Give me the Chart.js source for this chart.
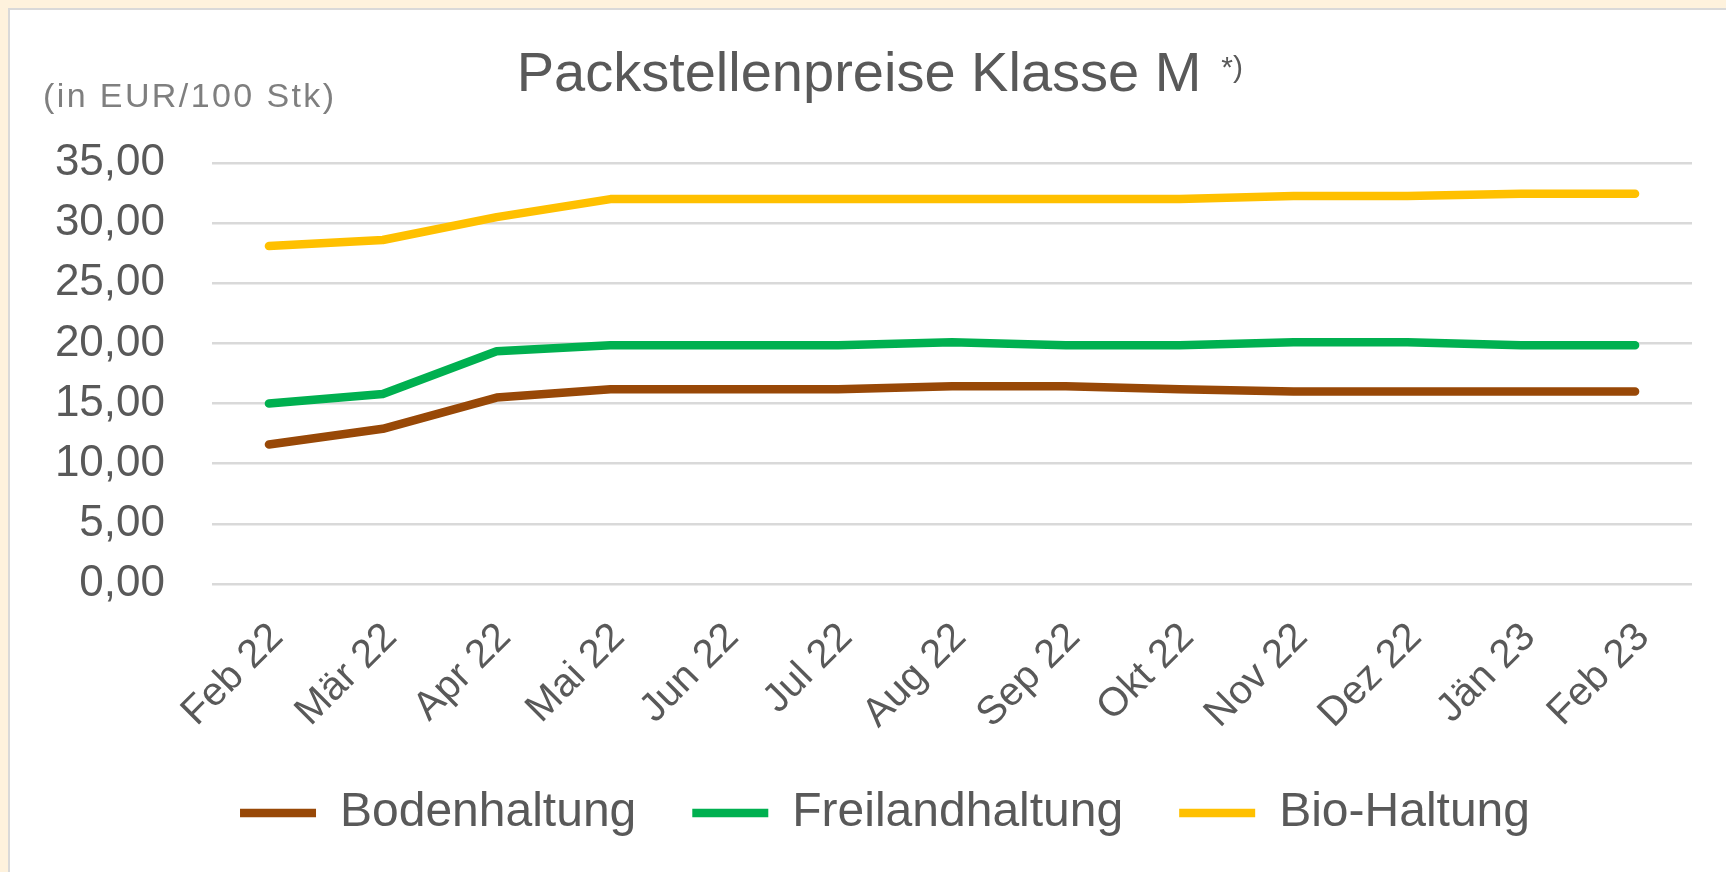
<!DOCTYPE html>
<html lang="de">
<head>
<meta charset="utf-8">
<title>Packstellenpreise Klasse M</title>
<script src="https://cdn.jsdelivr.net/npm/chart.js@4.4.1/dist/chart.umd.min.js"></script>
<style>
  html, body { margin: 0; padding: 0; width: 1726px; height: 872px; overflow: hidden; background: #fef2dd; }
  #panel { position: absolute; left: 8px; top: 8px; right: 0; bottom: 0; background: #fff;
           border-left: 2px solid #d9d9d9; border-top: 2px solid #d9d9d9; }
  #chart { display: block; }
</style>
</head>
<body>
<div id="panel"><canvas id="chart"></canvas></div>
<script>
const months = ['Feb 22', 'Mär 22', 'Apr 22', 'Mai 22', 'Jun 22', 'Jul 22', 'Aug 22',
                'Sep 22', 'Okt 22', 'Nov 22', 'Dez 22', 'Jän 23', 'Feb 23'];
const bodenhaltung = [11.6, 12.9, 15.5, 16.2, 16.2, 16.2, 16.45, 16.45, 16.2, 16.0, 16.0, 16.0, 16.0];
const freilandhaltung = [15.0, 15.8, 19.35, 19.85, 19.85, 19.85, 20.1, 19.85, 19.85, 20.1, 20.1, 19.85, 19.85];
const bioHaltung = [28.1, 28.6, 30.5, 32.0, 32.0, 32.0, 32.0, 32.0, 32.0, 32.25, 32.25, 32.45, 32.45];

const titleText = 'Packstellenpreise Klasse M';
const unitText = '(in EUR/100 Stk)';
const textColor = '#595959';
const gridColor = '#d9d9d9';
const fontFamily = '"Liberation Sans", Arial, sans-serif';

// title, footnote mark and unit label
const headerText = {
  id: 'headerText',
  afterDraw(chart) {
    const ctx = chart.ctx;
    ctx.save();
    ctx.fillStyle = textColor;
    ctx.textBaseline = 'middle';
    ctx.textAlign = 'center';
    ctx.font = '56px ' + fontFamily;
    const cx = chart.width / 2 - 9;
    ctx.fillText(titleText, cx, 66);
    const w = ctx.measureText(titleText).width;
    ctx.textAlign = 'left';
    ctx.textBaseline = 'top';
    ctx.font = '30px ' + fontFamily;
    ctx.fillText('*)', cx + w / 2 + 20, 44);
    ctx.fillStyle = '#7f7f7f';
    ctx.textBaseline = 'middle';
    ctx.font = '34px ' + fontFamily;
    ctx.letterSpacing = '2.4px';
    ctx.fillText(unitText, 33, 88);
    ctx.restore();
  }
};

// legend sits a little right of the centre in the original
const legendShift = {
  id: 'legendShift',
  afterLayout(chart) {
    const lg = chart.legend;
    lg.left += 26;
    lg.right += 26;
    lg.top -= 7;
    lg.bottom -= 7;
  }
};

function lineSet(label, data, color) {
  return {
    label: label,
    data: data,
    borderColor: color,
    backgroundColor: color,
    borderWidth: 8.5,
    borderCapStyle: 'round',
    borderJoinStyle: 'round',
    pointRadius: 0,
    pointHoverRadius: 0,
    tension: 0
  };
}

new Chart(document.getElementById('chart'), {
  type: 'line',
  data: {
    labels: months,
    datasets: [
      lineSet('Bodenhaltung', bodenhaltung, '#984807'),
      lineSet('Freilandhaltung', freilandhaltung, '#00b050'),
      lineSet('Bio-Haltung', bioHaltung, '#ffc000')
    ]
  },
  options: {
    responsive: true,
    maintainAspectRatio: false,
    animation: false,
    layout: { padding: { top: 153, left: 16, right: 34, bottom: 18 } },
    plugins: {
      title: { display: false },
      tooltip: { enabled: false },
      legend: {
        position: 'bottom',
        labels: {
          usePointStyle: true,
          pointStyle: 'line',
          pointStyleWidth: 76,
          padding: 56,
          color: textColor,
          font: { family: fontFamily, size: 48 }
        }
      }
    },
    scales: {
      x: {
        offset: true,
        grid: { display: false },
        border: { display: false },
        ticks: {
          autoSkip: false,
          minRotation: 45,
          maxRotation: 45,
          padding: 22,
          labelOffset: 8,
          color: textColor,
          font: { family: fontFamily, size: 40 }
        },
        afterFit(scale) { scale.height = 156; }
      },
      y: {
        min: 0,
        max: 35,
        grid: { color: gridColor, lineWidth: 2.5, drawTicks: false },
        border: { display: false },
        ticks: {
          stepSize: 5,
          padding: 47,
          color: textColor,
          font: { family: fontFamily, size: 44 },
          callback: v => v.toFixed(2).replace('.', ',')
        },
        afterFit(scale) { scale.width = 186; }
      }
    }
  },
  plugins: [headerText, legendShift]
});
</script>
</body>
</html>
